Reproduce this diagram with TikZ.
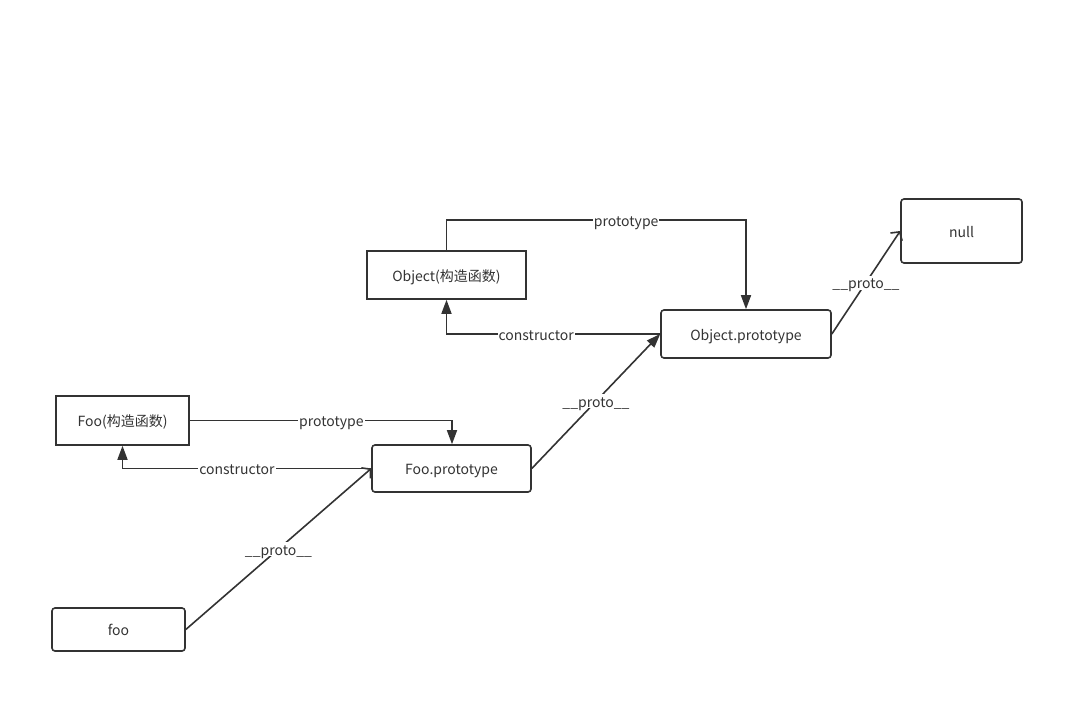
\documentclass[tikz,border=0pt]{standalone}
\usepackage{fontspec}
\setmainfont{Noto Sans CJK SC}
\usetikzlibrary{arrows.meta}
\definecolor{ink}{HTML}{333333}
\tikzset{
  txt/.style={font=\fontsize{14pt}{16pt}\selectfont, text=ink, text height=12pt, text depth=0pt},
  box/.style={txt, draw=ink, line width=1.6pt, fill=white, inner sep=0pt},
  rbox/.style={box, rounded corners=3pt},
  link/.style={draw=ink, line width=1.6pt},
  solid tip/.style={-{Triangle[length=14pt,width=10pt]}},
  open tip/.style={-{Straight Barb[length=6pt,width=14pt,line width=1.6pt]}},
  lbl/.style={txt, fill=white, inner sep=1pt}
}
\begin{document}
\begin{tikzpicture}[x=1pt,y=-1pt]
\useasboundingbox (0,0) rectangle (1084,713);
% boxes
\node[box, minimum width=159pt, minimum height=48pt] (obj) at (446.5,275) {Object(构造函数)};
\node[rbox, minimum width=170pt, minimum height=48pt] (objp) at (746,334) {Object.prototype};
\node[rbox, minimum width=121pt, minimum height=64pt] (null) at (961.5,231) {null};
\node[box, minimum width=133pt, minimum height=49pt] (foo) at (122.5,420.5) {Foo(构造函数)};
\node[rbox, minimum width=159pt, minimum height=47pt] (foop) at (451.5,468.5) {Foo.prototype};
\node[rbox, minimum width=133pt, minimum height=43pt] (inst) at (118.5,629.5) {foo};
% Object constructor and its prototype
\draw[link, solid tip] (obj.north) -- ++(0,-30) -| node[lbl, pos=0.3] {prototype} (objp.north);
\draw[link, solid tip] (objp.west) -| node[lbl, pos=0.29] {constructor} (obj.south);
% Foo constructor and its prototype
\draw[link, solid tip] (foo.east) -| node[lbl, pos=0.27] {prototype} ([xshift=0.5pt]foop.north);
\draw[link, solid tip] (foop.west) -| node[lbl, pos=0.27] {constructor} (foo.south);
% __proto__ chain
\draw[link, open tip] (inst.east) -- node[lbl, pos=0.5] {\_\_proto\_\_} (foop.west);
\draw[link, solid tip] (foop.east) -- node[lbl, pos=0.5] {\_\_proto\_\_} (objp.west);
\draw[link, open tip] (objp.east) -- node[lbl, pos=0.5] {\_\_proto\_\_} (null.west);
\end{tikzpicture}
\end{document}
